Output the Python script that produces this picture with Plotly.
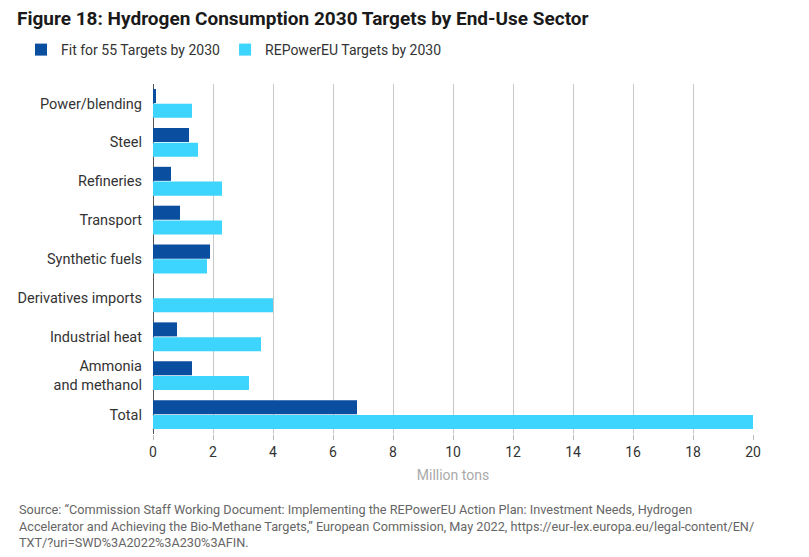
import plotly.graph_objects as go

categories = ["Power/blending", "Steel", "Refineries", "Transport", "Synthetic fuels",
              "Derivatives imports", "Industrial heat", "Ammonia<br>and methanol", "Total"]
fit55 = [0.1, 1.2, 0.6, 0.9, 1.9, 0, 0.8, 1.3, 6.8]
repower = [1.3, 1.5, 2.3, 2.3, 1.8, 4.0, 3.6, 3.2, 20]
x_ticks = list(range(0, 21, 2))

DARK = "#0a4e9f"
LIGHT = "#3dd4fd"
FONT = "Roboto, Liberation Sans, sans-serif"

fig = go.Figure()
fig.add_trace(go.Bar(y=categories, x=fit55, orientation="h", name="Fit for 55 Targets by 2030",
                     marker=dict(color=DARK, line_width=0)))
fig.add_trace(go.Bar(y=categories, x=repower, orientation="h", name="REPowerEU Targets by 2030",
                     marker=dict(color=LIGHT, line_width=0)))

fig.update_layout(
    width=809, height=557,
    margin=dict(l=153, r=56, t=84, b=123),
    paper_bgcolor="white", plot_bgcolor="white",
    barmode="group", bargap=0.24, bargroupgap=0.05,
    font=dict(family=FONT, color="#333333", size=14),
    title=dict(text="<b>Figure 18: Hydrogen Consumption 2030 Targets by End-Use Sector</b>",
               x=17/809, xanchor="left", y=1-18/557, yanchor="middle",
               font=dict(size=19, color="#1a1a1a", family=FONT)),
    legend=dict(orientation="h", traceorder="normal", x=21/809, y=1-50/557,
                yref="container", yanchor="middle", xanchor="left",
                font=dict(size=14, color="#333333"), itemwidth=30),
    showlegend=True,
)
fig.update_legends(xref="container")
fig.update_xaxes(range=[0, 20], tickvals=x_ticks, showgrid=True, gridcolor="#c8c8c8", gridwidth=1,
                 zeroline=True, zerolinecolor="#555555", zerolinewidth=1,
                 ticks="outside", ticklen=5, tickcolor="#bbbbbb",
                 tickfont=dict(size=14, color="#333333"),
                 title=dict(text="Million tons", font=dict(size=14, color="#aaaaaa"), standoff=11))
fig.update_yaxes(autorange="reversed", showgrid=False, ticks="", ticklabelstandoff=10,
                 tickfont=dict(size=14.5, color="#333333"))

fig.add_annotation(
    text=("Source: \u201cCommission Staff Working Document: Implementing the REPowerEU Action Plan: Investment Needs, Hydrogen<br>"
          "Accelerator and Achieving the Bio-Methane Targets,\u201d European Commission, May 2022, https://eur-lex.europa.eu/legal-content/EN/<br>"
          "TXT/?uri=SWD%3A2022%3A230%3AFIN."),
    xref="paper", yref="paper", x=-136/600, y=-(500-434)/350, xanchor="left", yanchor="top",
    align="left", showarrow=False, font=dict(size=12.7, color="#666666", family=FONT))

fig.write_html("out.html")
